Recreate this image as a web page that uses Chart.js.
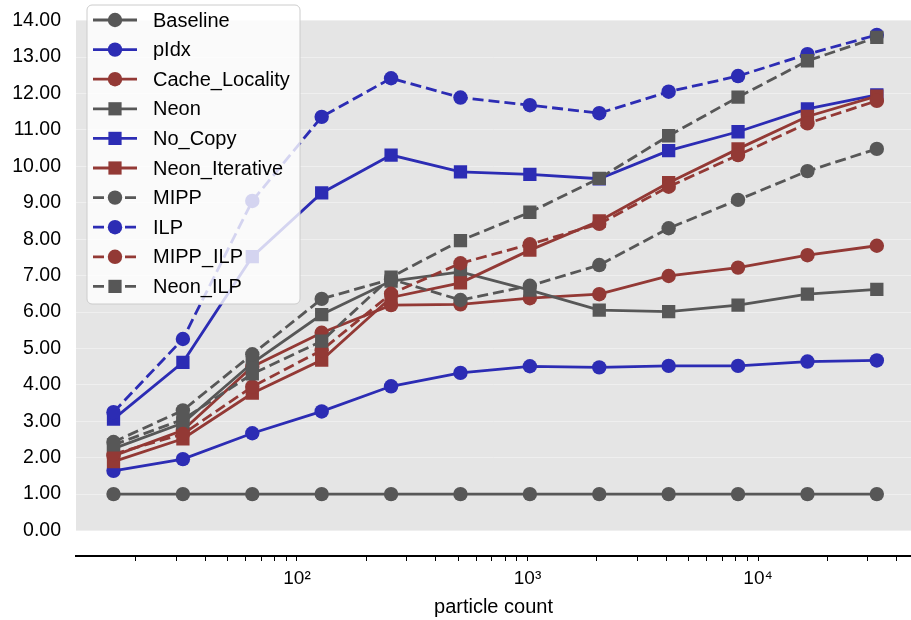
<!DOCTYPE html>
<html>
<head>
<meta charset="utf-8">
<script src="https://cdn.jsdelivr.net/npm/chart.js@4.4.1/dist/chart.umd.min.js"></script>
<style>
  body { margin: 0; background: #fff; }
  #wrap { width: 911px; height: 620px; }
</style>
</head>
<body>
<div id="wrap"><canvas id="speedupChart" width="911" height="620"></canvas></div>
<script>
const particleCounts = [16, 32, 64, 128, 256, 512, 1024, 2048, 4096, 8192, 16384, 32768];

const baseline      = [1, 1, 1, 1, 1, 1, 1, 1, 1, 1, 1, 1];
const pIdx          = [1.64, 1.96, 2.67, 3.27, 3.96, 4.33, 4.51, 4.48, 4.52, 4.52, 4.64, 4.67];
const cacheLocality = [2.05, 2.75, 4.5, 5.43, 6.19, 6.21, 6.38, 6.49, 6.99, 7.22, 7.56, 7.82];
const neon          = [2.25, 2.95, 4.6, 5.93, 6.85, 7.1, 6.6, 6.05, 6.01, 6.19, 6.49, 6.62];
const noCopy        = [3.06, 4.62, 7.52, 9.27, 10.31, 9.85, 9.78, 9.66, 10.43, 10.95, 11.58, 11.96];
const neonIterative = [1.89, 2.52, 3.77, 4.68, 6.4, 6.8, 7.7, 8.5, 9.55, 10.48, 11.37, 11.93];
const mipp          = [2.43, 3.3, 4.84, 6.36, 6.9, 6.33, 6.72, 7.29, 8.3, 9.08, 9.87, 10.48];
const ilp           = [3.25, 5.26, 9.05, 11.36, 12.42, 11.89, 11.68, 11.46, 12.05, 12.48, 13.08, 13.61];
const mippIlp       = [2.1, 2.65, 3.95, 4.95, 6.5, 7.34, 7.86, 8.42, 9.44, 10.31, 11.18, 11.8];
const neonIlp       = [2.35, 3.05, 4.3, 5.2, 6.96, 7.96, 8.74, 9.67, 10.84, 11.9, 12.9, 13.54];

const xMajorTicks = [100, 1000, 10000];
const xMajorLabels = ["10\u00b2", "10\u00b3", "10\u2074"];
const yTicks = [0, 1, 2, 3, 4, 5, 6, 7, 8, 9, 10, 11, 12, 13, 14];

const GRAY = "#575757";
const BLUE = "#2c2cb4";
const RED = "#933935";
const FONT = "'Liberation Sans', Arial, Helvetica, sans-serif";

const series = [
    { label: "Baseline", values: baseline, color: GRAY, marker: "circle", dashed: false },
    { label: "pIdx", values: pIdx, color: BLUE, marker: "circle", dashed: false },
    { label: "Cache_Locality", values: cacheLocality, color: RED, marker: "circle", dashed: false },
    { label: "Neon", values: neon, color: GRAY, marker: "rect", dashed: false },
    { label: "No_Copy", values: noCopy, color: BLUE, marker: "rect", dashed: false },
    { label: "Neon_Iterative", values: neonIterative, color: RED, marker: "rect", dashed: false },
    { label: "MIPP", values: mipp, color: GRAY, marker: "circle", dashed: true },
    { label: "ILP", values: ilp, color: BLUE, marker: "circle", dashed: true },
    { label: "MIPP_ILP", values: mippIlp, color: RED, marker: "circle", dashed: true },
    { label: "Neon_ILP", values: neonIlp, color: GRAY, marker: "rect", dashed: true }
];

const DASH = [11, 5];
const LINE_W = 2.8;
const CIRCLE_R = 7.2;
const RECT_R = 9.4;

// minor tick positions on the log axis (2..9 x each decade)
const xTickValues = [];
[10, 100, 1000, 10000].forEach(d => {
    for (let k = 1; k <= 9; k++) {
        const v = k * d;
        if (v > 11 && v < 46100) xTickValues.push(v);
    }
});

const datasets = series.map((s, i) => ({
    label: s.label,
    data: particleCounts.map((x, j) => ({ x: x, y: s.values[j] })),
    borderColor: s.color,
    backgroundColor: s.color,
    borderWidth: LINE_W,
    borderDash: s.dashed ? DASH : [],
    pointStyle: s.marker,
    pointRadius: s.marker === "rect" ? RECT_R : CIRCLE_R,
    pointBackgroundColor: s.color,
    pointBorderWidth: 0,
    tension: 0,
    order: -i
}));

const plotBackground = {
    id: "plotBackground",
    beforeDraw(chart) {
        const { ctx, chartArea } = chart;
        const y = chart.scales.y;
        const top = y.getPixelForValue(14);
        const bottom = y.getPixelForValue(0);
        ctx.save();
        ctx.fillStyle = "#e5e5e5";
        ctx.fillRect(chartArea.left, top, chartArea.right - chartArea.left, bottom - top);
        ctx.restore();
    }
};

const boxLegend = {
    id: "boxLegend",
    afterDraw(chart) {
        const ctx = chart.ctx;
        ctx.save();
        ctx.beginPath();
        ctx.roundRect(87, 5, 213, 299, 5);
        ctx.fillStyle = "rgba(255,255,255,0.8)";
        ctx.fill();
        ctx.strokeStyle = "#cccccc";
        ctx.lineWidth = 1;
        ctx.stroke();

        ctx.font = "20px " + FONT;
        ctx.textBaseline = "middle";
        series.forEach((s, i) => {
            const y = 20 + i * 29.6;
            ctx.strokeStyle = s.color;
            ctx.lineWidth = LINE_W;
            ctx.setLineDash(s.dashed ? DASH : []);
            ctx.beginPath();
            ctx.moveTo(93, y);
            ctx.lineTo(137, y);
            ctx.stroke();
            ctx.setLineDash([]);
            ctx.fillStyle = s.color;
            if (s.marker === "rect") {
                ctx.fillRect(115 - 6.6, y - 6.6, 13.2, 13.2);
            } else {
                ctx.beginPath();
                ctx.arc(115, y, CIRCLE_R, 0, Math.PI * 2);
                ctx.fill();
            }
            ctx.fillStyle = "#000";
            ctx.fillText(s.label, 153, y + 1);
        });
        ctx.restore();
    }
};

const ctx = document.getElementById("speedupChart").getContext("2d");

new Chart(ctx, {
    type: "line",
    data: { datasets: datasets },
    options: {
        responsive: false,
        animation: false,
        devicePixelRatio: 1,
        layout: { autoPadding: false, padding: { top: 20.7, right: 0, bottom: 0, left: 0 } },
        plugins: {
            legend: { display: false },
            tooltip: { enabled: false }
        },
        scales: {
            x: {
                type: "logarithmic",
                position: "bottom",
                min: 11,
                max: 46100,
                afterBuildTicks: scale => {
                    scale.ticks = xTickValues.map(v => ({ value: v }));
                },
                afterFit: scale => {
                    scale.height = 64;
                    scale.paddingLeft = 0;
                    scale.paddingRight = 0;
                },
                grid: {
                    display: true,
                    drawOnChartArea: false,
                    drawTicks: true,
                    tickLength: 5,
                    color: "#000",
                    lineWidth: 1
                },
                border: { display: true, color: "#000", width: 2 },
                ticks: {
                    autoSkip: false,
                    maxRotation: 0,
                    minRotation: 0,
                    padding: 6,
                    color: "#000",
                    font: { family: FONT, size: 19 },
                    callback: value => {
                        const k = xMajorTicks.indexOf(value);
                        return k >= 0 ? xMajorLabels[k] : "";
                    }
                },
                title: {
                    display: true,
                    text: "particle count",
                    color: "#000",
                    font: { family: FONT, size: 20 },
                    padding: { top: 0, bottom: 1 }
                }
            },
            y: {
                min: -0.7,
                max: 14,
                afterBuildTicks: scale => {
                    scale.ticks = yTicks.map(v => ({ value: v }));
                },
                afterFit: scale => {
                    scale.width = 76;
                    scale.paddingTop = 0;
                    scale.paddingBottom = 0;
                },
                grid: {
                    display: true,
                    drawTicks: false,
                    color: "#efefef",
                    lineWidth: 1
                },
                border: { display: false },
                ticks: {
                    padding: 15,
                    color: "#000",
                    font: { family: FONT, size: 19.5 },
                    callback: value => Number(value).toFixed(2)
                }
            }
        }
    },
    plugins: [plotBackground, boxLegend]
});
</script>
</body>
</html>
